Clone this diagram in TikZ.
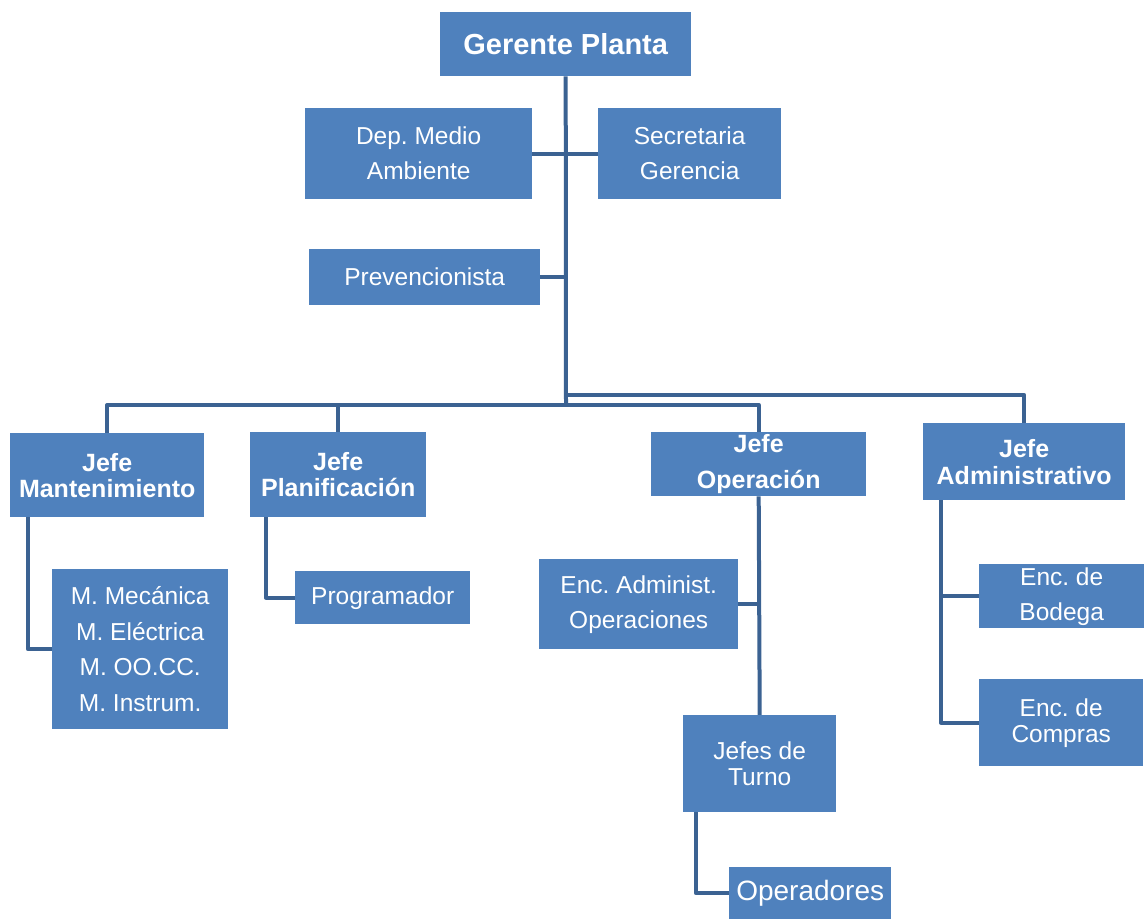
\documentclass[tikz,border=0pt]{standalone}
\usepackage{fontspec}
\setmainfont{Liberation Sans}
\usetikzlibrary{backgrounds}
\definecolor{boxblue}{RGB}{79,129,189}
\definecolor{lineblue}{RGB}{59,98,146}
\frenchspacing
\begin{document}
\begin{tikzpicture}[x=1pt, y=-1pt,
        unit/.style={fill=boxblue, text=white, anchor=north west, inner sep=0pt, align=center},
        reg/.style={font=\fontsize{24.5}{35}\selectfont},
        bld/.style={font=\bfseries\fontsize{25}{26}\selectfont},
        link/.style={draw=lineblue, line width=4pt, line join=round}]
        \useasboundingbox (0,0) rectangle (1144,919);
        \node[unit, minimum width=251, minimum height=64, font=\bfseries\fontsize{29}{35}\selectfont] (gerente) at (440,12) {Gerente Planta};
        \node[unit, reg, minimum width=227, minimum height=91] (medio) at (305,108) {Dep. Medio\\Ambiente};
        \node[unit, reg, minimum width=183, minimum height=91] (secre) at (598,108) {Secretaria\\Gerencia};
        \node[unit, reg, minimum width=231, minimum height=56] (preven) at (309,249) {Prevencionista};
        \node[unit, bld, minimum width=194, minimum height=84] (jmant) at (10,433) {Jefe\\Mantenimiento};
        \node[unit, bld, minimum width=176, minimum height=85] (jplan) at (250,432) {Jefe\\Planificación};
        \node[unit, bld, minimum width=215, minimum height=64, font=\bfseries\fontsize{25}{36}\selectfont] (joper) at (651,432) {Jefe\\Operación};
        \node[unit, bld, minimum width=202, minimum height=77, font=\bfseries\fontsize{25}{27}\selectfont] (jadmin) at (923,423) {Jefe\\Administrativo};
        \node[unit, reg, minimum width=176, minimum height=160, font=\fontsize{24.5}{35.5}\selectfont] (maint) at (52,569) {M. Mecánica\\M. Eléctrica\\M. OO.CC.\\M. Instrum.};
        \node[unit, reg, minimum width=175, minimum height=53] (progr) at (295,571) {Programador};
        \node[unit, reg, minimum width=199, minimum height=90] (encadm) at (539,559) {Enc. Administ.\\Operaciones};
        \node[unit, reg, minimum width=153, minimum height=97, font=\fontsize{24.5}{26}\selectfont] (turno) at (683,715) {Jefes de\\Turno};
        \node[unit, minimum width=162, minimum height=52, font=\fontsize{28}{34}\selectfont] (operad) at (729,867) {Operadores};
        \node[unit, reg, minimum width=165, minimum height=64] (bodega) at (979,564) {Enc. de\\Bodega};
        \node[unit, reg, minimum width=164, minimum height=87, font=\fontsize{24.5}{26}\selectfont] (compras) at (979,679) {Enc. de\\Compras};
        \coordinate (busL) at (566,405);
        \coordinate (busR) at (566,395);
        \coordinate (admtrunk) at ([xshift=18pt]jadmin.south west);
        \begin{scope}[on background layer]
        \draw[link] (gerente.south) -- (busL);
        \draw[link] (medio.east) -- (secre.west);
        \draw[link] (preven.east) -- (preven.east -| busL);
        \draw[link] (jmant.north) |- (joper.north |- busL) -- (joper.north);
        \draw[link] (jplan.north) -- (jplan.north |- busL);
        \draw[link] (busR) -| (jadmin.north);
        \draw[link] ([xshift=18pt]jmant.south west) |- (maint.west);
        \draw[link] ([xshift=16pt]jplan.south west) |- (progr.west);
        \draw[link] (joper.south) -- (turno.north);
        \draw[link] (encadm.east) -- (encadm.east -| joper.south);
        \draw[link] ([xshift=13pt]turno.south west) |- (operad.west);
        \draw[link] (admtrunk) |- (compras.west);
        \draw[link] (bodega.west) -- (bodega.west -| admtrunk);
        \end{scope}
\end{tikzpicture}
\end{document}
